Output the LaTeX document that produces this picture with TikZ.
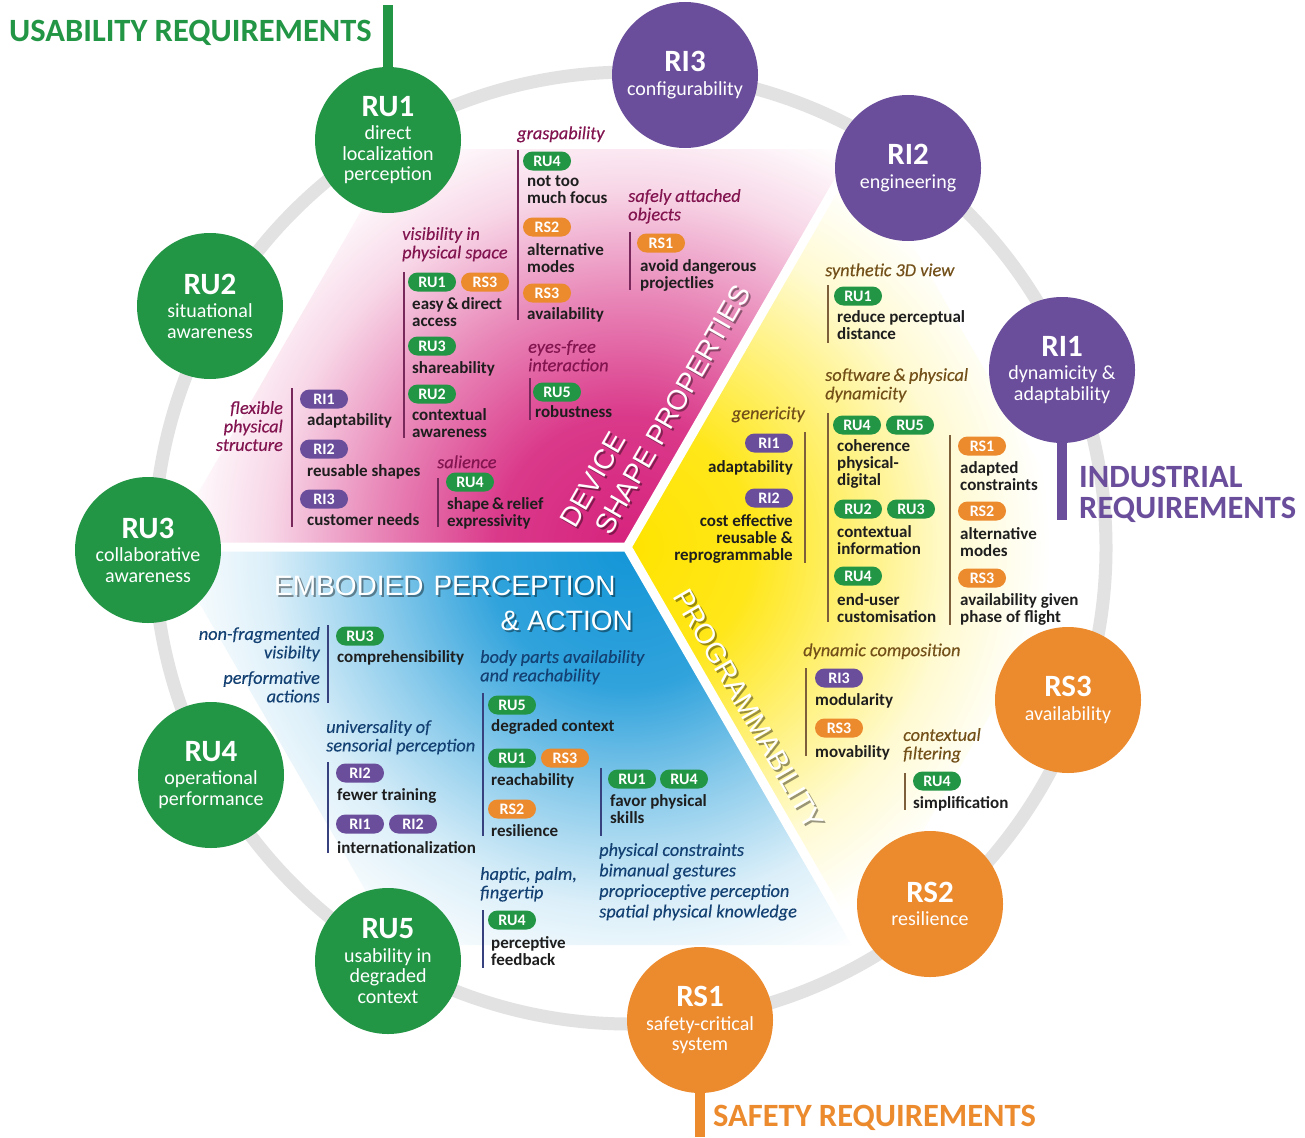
\documentclass[tikz,border=0pt]{standalone}
\usepackage{fontspec}
\setmainfont{Carlito}
\newfontfamily\arialf{Liberation Sans}
\newfontface\hdit{Carlito Italic}[FakeBold=0.3]
\definecolor{cgreen}{RGB}{35,150,70}
\definecolor{cpurple}{RGB}{106,78,156}
\definecolor{corange}{RGB}{236,138,46}
\definecolor{cpink}{RGB}{214,35,125}
\definecolor{cyellow}{RGB}{255,228,0}
\definecolor{cblue}{RGB}{20,150,215}
\definecolor{ringgray}{RGB}{226,226,226}
\definecolor{hpink}{RGB}{130,20,80}
\definecolor{hyel}{RGB}{115,80,25}
\definecolor{hblue}{RGB}{20,65,115}
\definecolor{lpink}{RGB}{120,40,90}
\definecolor{lyel}{RGB}{125,95,60}
\definecolor{lblue}{RGB}{55,65,125}
\definecolor{txt}{RGB}{30,30,30}
\pgfdeclareradialshading{pinkrad}{\pgfpoint{0bp}{0bp}}{color(0bp)=(cpink); color(6.8bp)=(cpink!90!white); color(13bp)=(cpink!55!white); color(18.75bp)=(cpink!18!white); color(23.4bp)=(white); color(50bp)=(white)}
\pgfdeclareradialshading{yelrad}{\pgfpoint{0bp}{0bp}}{color(0bp)=(cyellow); color(6.5bp)=(cyellow!90!white); color(12bp)=(cyellow!52!white); color(17bp)=(cyellow!18!white); color(22bp)=(white); color(50bp)=(white)}
\pgfdeclareradialshading{bluerad}{\pgfpoint{0bp}{0bp}}{color(0bp)=(cblue); color(7.3bp)=(cblue!88!white); color(13bp)=(cblue!50!white); color(18.75bp)=(cblue!15!white); color(24bp)=(white); color(50bp)=(white)}
\newcommand\circfont{\fontsize{20}{20.5}\selectfont}
\newcommand\ctitle[1]{{\fontsize{31}{31}\selectfont\bfseries #1}\\[3pt]}
\newcommand\pillfont{\fontsize{16}{16}\selectfont\bfseries}
\newcommand\bodyfont{\fontsize{17}{17}\selectfont\bfseries}
\newcommand\hdfont{\hdit\fontsize{18.3}{18.5}\selectfont}
\newcommand\listfont{\hdit\fontsize{18.3}{20.5}\selectfont}
\newcommand\ttlfont{\fontsize{32.5}{32.5}\selectfont\bfseries}
\newcommand\biglabfont{\arialf\fontsize{28}{28}\selectfont}
\tikzset{
 circ/.style={circle, minimum size=146pt, inner sep=0pt, text=white, align=center, font=\circfont},
 gcirc/.style={circ, fill=cgreen},
 pcirc/.style={circ, fill=cpurple},
 ocirc/.style={circ, fill=corange},
 pill/.style={rounded corners=9.5pt, minimum width=48pt, minimum height=19pt, inner sep=0pt, text=white, font=\pillfont},
 pg/.style={pill, fill=cgreen},
 pp/.style={pill, fill=cpurple},
 po/.style={pill, fill=corange},
 tb/.style={anchor=north west, inner sep=0pt, align=left, font=\bodyfont, text=txt, execute at begin node=\strut},
 tbr/.style={tb, anchor=north east, align=right},
 hd/.style={anchor=north west, inner sep=0pt, align=left, font=\hdfont, execute at begin node=\strut},
 hdr/.style={hd, anchor=north east, align=right},
 sep/.style={line width=1.6pt},
 stem/.style={line width=10pt},
 ttl/.style={font=\ttlfont, inner sep=0pt, anchor=base west},
 bigw/.style={font=\biglabfont, inner sep=0pt, text=white},
 bigs/.style={font=\biglabfont, inner sep=0pt, text=black, text opacity=0.4},
}
\begin{document}
\begin{tikzpicture}[x=1pt,y=-1pt]
\useasboundingbox (0,0) rectangle (1305,1137);
\fill[white] (0,0) rectangle (1305,1137);
% sectors
\coordinate (ctr) at (627,547);
\coordinate (h0) at (1087,547);
\coordinate (h60) at (857,149);
\coordinate (h120) at (397,149);
\coordinate (h180) at (167,547);
\coordinate (h240) at (397,945);
\coordinate (h300) at (857,945);
\begin{scope}
\clip (ctr) -- (h180) -- (h120) -- (h60) -- cycle;
\shade[shading=pinkrad] (ctr) circle (480pt);
\end{scope}
\begin{scope}
\clip (ctr) -- (h60) -- (h0) -- (h300) -- cycle;
\shade[shading=yelrad] (ctr) circle (480pt);
\end{scope}
\begin{scope}
\clip (ctr) -- (h300) -- (h240) -- (h180) -- cycle;
\shade[shading=bluerad] (ctr) circle (480pt);
\end{scope}
\draw[white, line width=9pt] (ctr) -- (h180) (ctr) -- (h60) (ctr) -- (h300);
% ring
\coordinate (rc) at (630,548);
\draw[ringgray, line width=13pt] (rc) circle (476pt);
% circles
\node[gcirc] (RU1) at (388,140) {\ctitle{RU1}direct\\localization\\perception};
\node[gcirc] (RU2) at (210,306) {\ctitle{RU2}situational\\awareness};
\node[gcirc] (RU3) at (148,550) {\ctitle{RU3}collaborative\\awareness};
\node[gcirc] (RU4) at (211,775) {\ctitle{RU4}operational\\performance};
\node[gcirc] (RU5) at (388,961) {\ctitle{RU5}usability in\\degraded\\context};
\node[pcirc] (RI3) at (685,75) {\ctitle{RI3}configurability};
\node[pcirc] (RI2) at (908,168) {\ctitle{RI2}engineering};
\node[pcirc] (RI1) at (1062,370) {\ctitle{RI1}dynamicity \&\\adaptability};
\node[ocirc] (RS3) at (1068,700) {\ctitle{RS3}availability};
\node[ocirc] (RS2) at (930,904) {\ctitle{RS2}resilience};
\node[ocirc] (RS1) at (700,1020) {\ctitle{RS1}safety-critical\\system};
% stems and titles
\coordinate (ustem) at (388,5);
\coordinate (istem) at (1062,520);
\coordinate (sstem) at (700,1137);
\draw[stem, cgreen] (RU1.north) -- (ustem);
\draw[stem, cpurple] (RI1.south) -- (istem);
\draw[stem, corange] (RS1.south) -- (sstem);
\node[ttl, text=cgreen] (tu) at (9,42) {USABILITY REQUIREMENTS};
\node[ttl, text=cpurple] (ti1) at (1079,487) {INDUSTRIAL};
\node[ttl, text=cpurple] (ti2) at (1079,518) {REQUIREMENTS};
\node[ttl, text=corange] (ts) at (713,1126) {SAFETY REQUIREMENTS};
% ---------- PINK ----------
\node[hd, text=hpink] (p1h) at (517,126) {graspability};
\draw[sep, lpink] (518,150) -- (518,320);
\node[pg] (p1a) at (547,161) {RU4};
\node[tb] (p1at) at (527,176) {not too\\much focus};
\node[po] (p1b) at (547,227) {RS2};
\node[tb] (p1bt) at (527,243) {alternative\\modes};
\node[po] (p1c) at (547,293) {RS3};
\node[tb] (p1ct) at (527,307) {availability};
\node[hd, text=hpink] (p2h) at (628,189) {safely attached\\objects};
\draw[sep, lpink] (630,232) -- (630,290);
\node[po] (p2a) at (661,243) {RS1};
\node[tb] (p2at) at (640,259) {avoid dangerous\\projectlies};
\node[hd, text=hpink] (p3h) at (402,227) {visibility in\\physical space};
\draw[sep, lpink] (404,272) -- (404,438);
\node[pg] (p3a) at (432,282) {RU1};
\node[po] (p3b) at (485,282) {RS3};
\node[tb] (p3at) at (412,297) {easy\,\&\,direct\\access};
\node[pg] (p3c) at (432,346) {RU3};
\node[tb] (p3ct) at (412,361) {shareability};
\node[pg] (p3d) at (432,394) {RU2};
\node[tb] (p3dt) at (412,408) {contextual\\awareness};
\node[hd, text=hpink] (p4h) at (528,340) {eyes-free\\interaction};
\draw[sep, lpink] (530,378) -- (530,420);
\node[pg] (p4a) at (557,392) {RU5};
\node[tb] (p4at) at (535,405) {robustness};
\node[hdr, text=hpink] (p5h) at (283,401) {flexible\\physical\\structure};
\draw[sep, lpink] (292,388) -- (292,527);
\node[pp] (p5a) at (324,399) {RI1};
\node[tb] (p5at) at (307,413) {adaptability};
\node[pp] (p5b) at (324,449) {RI2};
\node[tb] (p5bt) at (307,464) {reusable shapes};
\node[pp] (p5c) at (324,499) {RI3};
\node[tb] (p5ct) at (307,513) {customer needs};
\node[hd, text=hpink] (p6h) at (437,455) {salience};
\draw[sep, lpink] (438,478) -- (438,527);
\node[pg] (p6a) at (470,482) {RU4};
\node[tb] (p6at) at (447,497) {shape\,\&\,relief\\expressivity};
% ---------- YELLOW ----------
\node[hd, text=hyel] (y1h) at (825,263) {synthetic 3D view};
\draw[sep, lyel] (828,285) -- (828,343);
\node[pg] (y1a) at (858,296) {RU1};
\node[tb] (y1at) at (837,310) {reduce perceptual\\distance};
\node[hd, text=hyel] (y2h) at (825,368) {software\,\&\,physical\\dynamicity};
\draw[sep, lyel] (828,413) -- (828,622);
\node[pg] (y2a) at (857,425) {RU4};
\node[pg] (y2b) at (910,425) {RU5};
\node[tb] (y2at) at (837,439) {coherence\\physical-\\digital};
\node[pg] (y2c) at (858,509) {RU2};
\node[pg] (y2d) at (911,509) {RU3};
\node[tb] (y2ct) at (837,525) {contextual\\information};
\node[pg] (y2e) at (858,576) {RU4};
\node[tb] (y2et) at (837,593) {end-user\\customisation};
\draw[sep, lyel] (950,435) -- (950,625);
\node[po] (y3a) at (982,446) {RS1};
\node[tb] (y3at) at (960,461) {adapted\\constraints};
\node[po] (y3b) at (982,511) {RS2};
\node[tb] (y3bt) at (960,527) {alternative\\modes};
\node[po] (y3c) at (982,578) {RS3};
\node[tb] (y3ct) at (960,593) {availability given\\phase of flight};
\node[hdr, text=hyel] (y4h) at (805,406) {genericity};
\draw[sep, lyel] (805,432) -- (805,563);
\node[pp] (y4a) at (769,443) {RI1};
\node[tbr] (y4at) at (793,460) {adaptability};
\node[pp] (y4b) at (769,498) {RI2};
\node[tbr] (y4bt) at (793,514) {cost effective\\reusable \&\\reprogrammable};
\node[hd, text=hyel] (y5h) at (803,643) {dynamic composition};
\draw[sep, lyel] (806,668) -- (806,756);
\node[pp] (y5a) at (839,678) {RI3};
\node[tb] (y5at) at (815,693) {modularity};
\node[po] (y5b) at (839,728) {RS3};
\node[tb] (y5bt) at (815,745) {movability};
\node[hd, text=hyel] (y6h) at (903,728) {contextual\\filtering};
\draw[sep, lyel] (905,773) -- (905,810);
\node[pg] (y6a) at (937,781) {RU4};
\node[tb] (y6at) at (913,796) {simplification};
% ---------- BLUE ----------
\node[hdr, text=hblue] (b1h) at (320,627) {non-fragmented\\visibilty};
\node[hdr, text=hblue] (b1h2) at (320,671) {performative\\actions};
\draw[sep, lblue] (328,625) -- (328,703);
\node[pg] (b1a) at (360,636) {RU3};
\node[tb] (b1at) at (337,650) {comprehensibility};
\node[hd, text=hblue] (b2h) at (480,650) {body parts availability\\and reachability};
\draw[sep, lblue] (483,693) -- (483,836);
\node[pg] (b2a) at (512,705) {RU5};
\node[tb] (b2at) at (491,719) {degraded context};
\node[pg] (b2b) at (512,758) {RU1};
\node[po] (b2c) at (565,758) {RS3};
\node[tb] (b2bt) at (491,773) {reachability};
\node[po] (b2d) at (512,809) {RS2};
\node[tb] (b2dt) at (491,824) {resilience};
\node[hd, text=hblue] (b3h) at (326,720) {universality of\\sensorial perception};
\draw[sep, lblue] (328,762) -- (328,853);
\node[pp] (b3a) at (360,773) {RI2};
\node[tb] (b3at) at (337,788) {fewer training};
\node[pp] (b3b) at (360,824) {RI1};
\node[pp] (b3c) at (413,824) {RI2};
\node[tb] (b3bt) at (337,841) {internationalization};
\node[hd, text=hblue] (b4h) at (480,867) {haptic, palm,\\fingertip};
\draw[sep, lblue] (483,910) -- (483,968);
\node[pg] (b4a) at (512,920) {RU4};
\node[tb] (b4at) at (491,936) {perceptive\\feedback};
\draw[sep, lblue] (601,768) -- (601,836);
\node[pg] (b5a) at (632,779) {RU1};
\node[pg] (b5b) at (684,779) {RU4};
\node[tb] (b5at) at (610,794) {favor physical\\skills};
\node[hd, font=\listfont, text=hblue] (b6) at (599,843) {physical constraints\\bimanual gestures\\proprioceptive perception\\spatial physical knowledge};
% ---------- big labels ----------
\node[bigs, anchor=base west] (e1s) at (276,597) {EMBODIED\hspace{10pt}PERCEPTION};
\node[bigw, anchor=base west] (e1) at (274,595) {EMBODIED\hspace{10pt}PERCEPTION};
\node[bigs, anchor=base east] (e2s) at (635,632) {\& ACTION};
\node[bigw, anchor=base east] (e2) at (633,630) {\& ACTION};
\node[bigs, anchor=base west, rotate=60] (d1s) at (577,532) {DEVICE};
\node[bigw, anchor=base west, rotate=60] (d1) at (575,530) {DEVICE};
\node[bigs, anchor=base west, rotate=60] (d2s) at (612,539) {SHAPE PROPERTIES};
\node[bigw, anchor=base west, rotate=60] (d2) at (610,537) {SHAPE PROPERTIES};
\node[bigs, anchor=base west, rotate=-60] (g1s) at (674,598) {PROGRAMMABILITY};
\node[bigw, anchor=base west, rotate=-60] (g1) at (672,596) {PROGRAMMABILITY};
\end{tikzpicture}
\end{document}
